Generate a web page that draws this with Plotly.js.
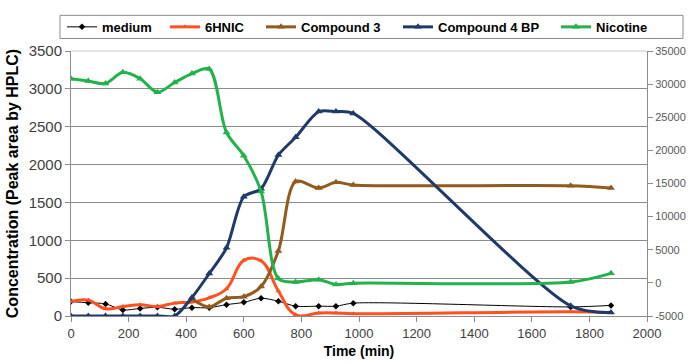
<!DOCTYPE html>
<html>
<head>
<meta charset="utf-8">
<script src="https://cdn.plot.ly/plotly-3.0.1.min.js"></script>
<style>
html,body{margin:0;padding:0;background:#fff;}
#chart{width:689px;height:364px;}
</style>
</head>
<body>
<div id="chart"></div>
<script>
// Data
const timeMin = [0,60,120,180,240,300,360,420,480,540,600,660,720,780,860,920,980,1735,1875];
const medium = [190,175,160,80,100,115,90,110,110,150,180,235,195,130,130,130,170,120,140];
const hnic6 = [190,210,95,125,150,125,170,185,240,360,735,730,330,15,40,40,30,55,45];
const timeC3 = [420,480,540,600,660,720,780,860,920,980,1735,1875];
const compound3 = [225,120,235,255,390,860,1775,1690,1765,1730,1720,1690];
const compound4BP = [0,0,0,0,0,0,0,245,560,900,1575,1680,2125,2360,2700,2700,2675,135,45];
const nicotine = [30820,30470,30100,31780,30820,28790,30240,31590,32270,22700,19200,13800,650,130,480,-250,-50,130,1440];

const seriesNames = ['medium','6HNIC','Compound 3','Compound 4 BP','Nicotine'];
const seriesColors = ['#000000','#FF5020','#935A1F','#1F3A68','#21B24B'];

const rightTickVals = [-5000,0,5000,10000,15000,20000,25000,30000,35000];
const rightTickText = ['-5000','0','5000','10000','15000','20000','25000','30000','35000'];

const FONT = '"Liberation Sans", Arial, sans-serif';

const traces = [
  {x: timeMin, y: medium, name: seriesNames[0], type:'scatter', mode:'lines+markers',
   line:{color:seriesColors[0], width:1, shape:'spline', smoothing:0.8},
   marker:{symbol:'diamond', size:5, color:seriesColors[0]}, legend:'legend'},
  {x: timeMin, y: hnic6, name: seriesNames[1], type:'scatter', mode:'lines+markers',
   line:{color:seriesColors[1], width:3, shape:'spline', smoothing:1.2},
   marker:{symbol:'triangle-up', size:5, color:seriesColors[1]}, legend:'legend2'},
  {x: timeC3, y: compound3, name: seriesNames[2], type:'scatter', mode:'lines+markers',
   line:{color:seriesColors[2], width:3, shape:'spline', smoothing:0.9},
   marker:{symbol:'triangle-up', size:7, color:seriesColors[2]}, legend:'legend3'},
  {x: timeMin, y: compound4BP, name: seriesNames[3], type:'scatter', mode:'lines+markers',
   line:{color:seriesColors[3], width:3, shape:'spline', smoothing:0.8},
   marker:{symbol:'triangle-up', size:7, color:seriesColors[3]}, legend:'legend4'},
  {x: timeMin, y: nicotine, name: seriesNames[4], type:'scatter', mode:'lines+markers', yaxis:'y2',
   line:{color:seriesColors[4], width:3, shape:'spline', smoothing:0.9},
   marker:{symbol:'triangle-up', size:7, color:seriesColors[4]}, legend:'legend5'}
];

const plotL = 71, plotW = 576, plotT = 41, plotH = 275;
function px2paperX(px){ return (px - plotL) / plotW; }
function px2paperY(py){ return 1 + (plotT - py) / plotH; }

const textStarts = [102, 205, 301, 438, 596];
function legendAt(i){
  return {x: px2paperX(textStarts[i] - 40), xanchor:'left', y: px2paperY(16), yanchor:'middle',
          orientation:'h', bgcolor:'rgba(0,0,0,0)', borderwidth:0,
          font:{family:FONT, size:13, color:'#000', weight:'bold'}};
}

const layout = {
  width: 689, height: 364,
  margin: {l: plotL, r: 689 - plotL - plotW, t: plotT, b: 364 - plotT - plotH},
  paper_bgcolor:'#ffffff', plot_bgcolor:'#ffffff',
  font:{family:FONT, color:'#404040'},
  showlegend: true,
  legend: legendAt(0), legend2: legendAt(1), legend3: legendAt(2), legend4: legendAt(3), legend5: legendAt(4),
  xaxis: {range:[0,2000], dtick:200, tick0:0, ticks:'outside', ticklen:5, tickcolor:'#8c8c8c',
          showline:true, linecolor:'#8c8c8c', linewidth:1, showgrid:false, zeroline:false,
          tickfont:{family:FONT, size:13, color:'#404040'},
          title:{text:'Time (min)', font:{family:FONT, size:14, color:'#000', weight:'bold'}, standoff:6}},
  yaxis: {range:[0,3500], dtick:500, tick0:0, ticks:'outside', ticklen:5, tickcolor:'#8c8c8c',
          showline:true, linecolor:'#8c8c8c', linewidth:1, showgrid:true, gridcolor:'#8c8c8c', gridwidth:1,
          zeroline:false, tickfont:{family:FONT, size:15, color:'#404040'},
          title:{text:'Concentration (Peak area by HPLC)', font:{family:FONT, size:16, color:'#000', weight:'bold'}, standoff:6}},
  yaxis2: {range:[-5000,35000], tickmode:'array', tickvals:rightTickVals, ticktext:rightTickText,
           overlaying:'y', side:'right', ticks:'outside', ticklen:5,
           tickcolor:'#8c8c8c', showline:true, linecolor:'#8c8c8c', linewidth:1, showgrid:false, zeroline:false,
           tickfont:{family:FONT, size:11, color:'#595959'}},
  shapes: [
    {type:'line', xref:'paper', yref:'paper', x0:0, x1:1, y0:1, y1:1, line:{color:'#e4e4e4', width:2}, layer:'above'},
    {type:'rect', xref:'paper', yref:'paper', x0:px2paperX(60), x1:px2paperX(683), y0:px2paperY(28), y1:px2paperY(4),
     line:{color:'#8c8c8c', width:1}, fillcolor:'rgba(0,0,0,0)', layer:'above'}
  ]
};

Plotly.newPlot('chart', traces, layout, {staticPlot:true, displayModeBar:false});
</script>
</body>
</html>
